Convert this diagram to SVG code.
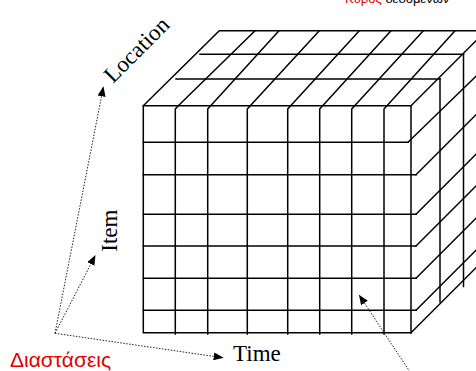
<svg xmlns="http://www.w3.org/2000/svg" width="476" height="371" viewBox="0 0 476 371">
<defs>
<style>
.c{stroke:#000;stroke-width:1.5;fill:none;stroke-linecap:square}
.d{stroke:#222;stroke-width:1;fill:none;stroke-dasharray:1.5 1.5}
.lbl{font-family:"Liberation Serif","Times New Roman",serif;font-size:23px;fill:#000}
.red{font-family:"Liberation Sans",Arial,sans-serif;font-size:21px;fill:#e00000}
</style>
<marker id="ah" markerWidth="10" markerHeight="8" refX="9" refY="4" orient="auto" markerUnits="userSpaceOnUse">
<path d="M0,0 L10,4 L0,8 Z" fill="#000"/>
</marker>
</defs>
<rect width="476" height="371" fill="#fff"/>
<g id="top-label">
<text x="345" y="3" style="font-family:'Liberation Sans',Arial,sans-serif;font-size:13px"><tspan fill="#e00000">Κύβος</tspan><tspan fill="#000"> δεδομένων</tspan></text>
</g>
<g id="cube">
<!-- front face outline -->
<path class="c" d="M143.3,105.7 H411 V333 M143.3,105.7 V332.7 H411"/>
<!-- front rows -->
<path class="c" d="M143.3,142.3 H408 M143.3,174.7 H416 M143.3,214.3 H416 M143.3,246 H416 M143.3,278.3 H416 M143.3,310.3 H416"/>
<!-- inner columns with top diagonals -->
<path class="c" d="M175.3,334 V109 L178.3,105.7 L255,30.7
M207.7,334 V109 L210.7,105.7 L279,30.7
M247.3,334 V109 L250.3,105.7 L319.3,30.7
M287.7,334 V109 L290.7,105.7 L359.3,30.7
M319.7,334 V109 L322.7,105.7 L391,30.7
M351.7,334 V109 L354.7,105.7 L423.3,30.7
M384,334 V109 L387,105.7 L455,30.7"/>
<!-- top face edges -->
<path class="c" d="M143.3,105.7 L219.3,30.7 H476 M411,105.7 L476,40.7 M176,79 H440 M200,54.3 H463.5"/>
<!-- right face verticals -->
<path class="c" d="M440,79 V301.7 M463.5,54.3 V286.5"/>
<!-- right face depth lines -->
<path class="c" d="M408,142.3 L476,76.3 M416,174.7 L476,114.7 M416,214.3 L476,154.3 M416,246 L476,186 M416,278.3 L476,218.3 M416,310.3 L476,250.3 M411,332.7 L476,267.7"/>
</g>
<g id="connectors">
<line class="d" x1="55" y1="333.3" x2="103.3" y2="87.3" marker-end="url(#ah)"/>
<line class="d" x1="55" y1="333.3" x2="95" y2="256" marker-end="url(#ah)"/>
<line class="d" x1="55" y1="333.3" x2="222.7" y2="357.7" marker-end="url(#ah)"/>
<line class="d" x1="410" y1="372" x2="359.5" y2="295.5" marker-end="url(#ah)"/>
</g>
<g id="location">
<text class="lbl" transform="translate(113,84) rotate(-45)">Location</text>
</g>
<g id="item">
<text class="lbl" transform="translate(116.7,251.7) rotate(-90)">Item</text>
</g>
<g id="time">
<text class="lbl" x="233" y="361">Time</text>
</g>
<g id="dimensions">
<text class="red" x="10" y="366.7">Διαστάσεις</text>
</g>
</svg>
